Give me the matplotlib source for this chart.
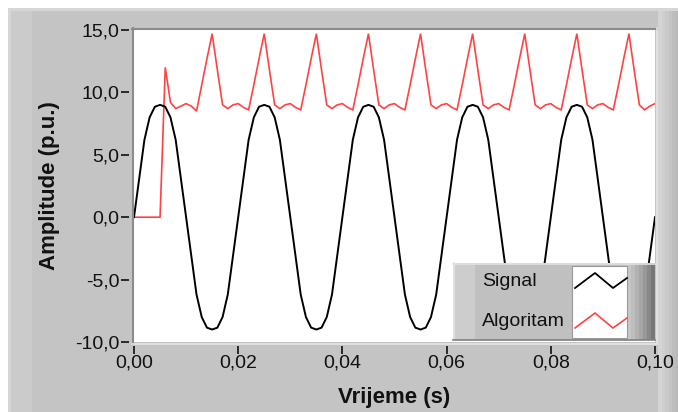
import numpy as np
import matplotlib
matplotlib.use("Agg")
import matplotlib.pyplot as plt
from matplotlib.patches import Rectangle
from matplotlib.lines import Line2D

# ---- data (sampled at 1 kHz, 0 ... 0.1 s) ----
sample_period = 0.001

signal = [
    0.00, 3.10, 6.20, 8.00, 8.85, 9.00, 8.85, 8.00, 6.20, 3.10,
    0.00, -3.10, -6.20, -8.00, -8.85, -9.00, -8.85, -8.00, -6.20, -3.10,
    0.00, 3.10, 6.20, 8.00, 8.85, 9.00, 8.85, 8.00, 6.20, 3.10,
    0.00, -3.10, -6.20, -8.00, -8.85, -9.00, -8.85, -8.00, -6.20, -3.10,
    0.00, 3.10, 6.20, 8.00, 8.85, 9.00, 8.85, 8.00, 6.20, 3.10,
    0.00, -3.10, -6.20, -8.00, -8.85, -9.00, -8.85, -8.00, -6.20, -3.10,
    0.00, 3.10, 6.20, 8.00, 8.85, 9.00, 8.85, 8.00, 6.20, 3.10,
    0.00, -3.10, -6.20, -8.00, -8.85, -9.00, -8.85, -8.00, -6.20, -3.10,
    0.00, 3.10, 6.20, 8.00, 8.85, 9.00, 8.85, 8.00, 6.20, 3.10,
    0.00, -3.10, -6.20, -8.00, -8.85, -9.00, -8.85, -8.00, -6.20, -3.10,
    0.00,
]

algoritam = [
    0.0, 0.0, 0.0, 0.0, 0.0, 0.0,
    12.0, 9.2, 8.7, 8.9, 9.1, 8.9, 8.5, 10.6, 12.7, 14.7,
    11.8, 9.0, 8.7, 9.0, 9.1, 8.8, 8.6, 10.6, 12.7, 14.7,
    11.8, 9.0, 8.7, 9.0, 9.1, 8.8, 8.6, 10.6, 12.7, 14.7,
    11.8, 9.0, 8.7, 9.0, 9.1, 8.8, 8.6, 10.6, 12.7, 14.7,
    11.8, 9.0, 8.7, 9.0, 9.1, 8.8, 8.6, 10.6, 12.7, 14.7,
    11.8, 9.0, 8.7, 9.0, 9.1, 8.8, 8.6, 10.6, 12.7, 14.7,
    11.8, 9.0, 8.7, 9.0, 9.1, 8.8, 8.6, 10.6, 12.7, 14.7,
    11.8, 9.0, 8.7, 9.0, 9.1, 8.8, 8.6, 10.6, 12.7, 14.7,
    11.8, 9.0, 8.7, 9.0, 9.1, 8.8, 8.6, 10.6, 12.7, 14.7,
    11.8, 9.0, 8.6, 8.9, 9.1,
]

x_ticks = [0.00, 0.02, 0.04, 0.06, 0.08, 0.10]
x_tick_labels = ["0,00", "0,02", "0,04", "0,06", "0,08", "0,10"]
y_ticks = [15, 10, 5, 0, -5, -10]
y_tick_labels = ["15,0", "10,0", "5,0", "0,0", "-5,0", "-10,0"]
series_names = ["Signal", "Algoritam"]
x_label = "Vrijeme (s)"
y_label = "Amplitude (p.u.)"

t = np.arange(len(signal)) * sample_period

# ---- figure setup ----
W, H = 678, 412
plt.rcParams["font.family"] = ["Liberation Sans", "DejaVu Sans"]
fig = plt.figure(figsize=(W / 100, H / 100), dpi=100, facecolor="white")


def fx(x):
    return x / W


def fy(y):
    return 1 - y / H


def rect(x0, y0, x1, y1, color, z=-5, ec="none", lw=0):
    r = Rectangle((fx(x0), fy(y1)), (x1 - x0) / W, (y1 - y0) / H,
                  transform=fig.transFigure, facecolor=color, edgecolor=ec,
                  linewidth=lw, zorder=z)
    fig.add_artist(r)
    return r


def hline(x0, x1, y, color, lw=1.0, z=-4):
    fig.add_artist(Line2D([fx(x0), fx(x1)], [fy(y), fy(y)], transform=fig.transFigure,
                          color=color, linewidth=lw, zorder=z))


def vline(x, y0, y1, color, lw=1.0, z=-4):
    fig.add_artist(Line2D([fx(x), fx(x)], [fy(y0), fy(y1)], transform=fig.transFigure,
                          color=color, linewidth=lw, zorder=z))


# gray panel with a light bevel
panel = "#c4c4c4"
rect(8, 8, W, H, panel)
rect(8, 8, 32, H, "#cbcbcb")
# right edge shading of the panel
shades = ["#d4d4d4", "#cfcfcf", "#cacaca", "#c4c4c4", "#bdbdbd", "#b8b8b8"]
for i, c in enumerate(shades):
    rect(658 + i * 3.5, 8, 658 + (i + 1) * 3.5, H, c, z=-4.5)
rect(8, 8, W, 11, "#d6d6d6", z=-4.2)
rect(8, 8, 11, H, "#d6d6d6", z=-4.2)

# ---- plot area ----
x_left, x_right = 134, 655
y_top, y_bottom = 30, 342
ax = fig.add_axes([fx(x_left), fy(y_bottom), (x_right - x_left) / W, (y_bottom - y_top) / H])
ax.set_facecolor("white")
ax.set_xlim(0, 0.1)
ax.set_ylim(-10, 15)

ax.plot(t, algoritam, color="#ff4242", linewidth=1.2, solid_joinstyle="miter", zorder=3)
ax.plot(t, signal, color="black", linewidth=1.4, solid_joinstyle="round", zorder=4)

for side in ["top", "right"]:
    ax.spines[side].set_visible(False)
ax.spines["left"].set_position(("outward", 3.4))
ax.spines["bottom"].set_position(("outward", 3))
ax.spines["left"].set_visible(False)
ax.spines["bottom"].set_visible(False)

ax.set_xticks(x_ticks)
ax.set_xticklabels(x_tick_labels)
ax.set_yticks(y_ticks)
ax.set_yticklabels(y_tick_labels)
ax.tick_params(axis="both", direction="out", length=5.5, width=1.1, color="black",
               labelsize=14, labelcolor="#111111")
ax.tick_params(axis="x", pad=0.5)
ax.tick_params(axis="y", pad=1.5)

# inset frame around the plot area
hline(x_left - 2, x_right + 2, y_top - 1.5, "#8c8c8c", lw=1.5, z=5)
vline(x_left - 1.5, y_top - 2, y_bottom + 2, "#8c8c8c", lw=1.5, z=5)
hline(x_left - 2, x_right + 2, y_bottom + 1.5, "#e6e6e6", lw=1.2, z=5)
vline(x_right + 1.5, y_top - 2, y_bottom + 2, "#e6e6e6", lw=1.2, z=5)

# axis titles
fig.text(fx(50), fy(186), y_label, rotation=90, ha="center", va="center",
         fontsize=16, fontweight="bold", color="#111111")
fig.text(fx(394), fy(398), x_label, ha="center", va="center",
         fontsize=16, fontweight="bold", color="#111111")

# ---- legend panel ----
lx0, ly0, lx1, ly1 = 453, 263, 655, 340
rect(lx0, ly0, lx1, ly1, "#c0c0c0", z=10)
rect(lx0, ly0, lx0 + 22, ly1, "#cdcdcd", z=10.1)
grad = ["#c6c6c6", "#bdbdbd", "#b2b2b2", "#a6a6a6", "#989898", "#888888", "#777777"]
gx = 627
for i, c in enumerate(grad):
    rect(gx + i * 4, ly0, gx + (i + 1) * 4, ly1, c, z=10.1)
hline(lx0, lx1, ly0 + 0.5, "#e2e2e2", lw=1.2, z=10.2)
vline(lx0 + 0.5, ly0, ly1, "#e2e2e2", lw=1.2, z=10.2)
hline(lx0, lx1, ly1 - 0.5, "#808080", lw=1.2, z=10.2)

rect(572, 266, 627, 338, "white", z=10.3, ec="#9a9a9a", lw=0.8)

fig.text(fx(482), fy(282), series_names[0], ha="left", va="center", fontsize=14,
         color="#111111", zorder=11)
fig.text(fx(482), fy(321), series_names[1], ha="left", va="center", fontsize=14,
         color="#111111", zorder=11)

zig_x = [575, 595, 613, 627]
fig.add_artist(Line2D([fx(v) for v in zig_x], [fy(v) for v in [288, 273, 288, 278]],
                      transform=fig.transFigure, color="black", linewidth=1.3, zorder=11))
fig.add_artist(Line2D([fx(v) for v in zig_x], [fy(v) for v in [328, 313, 328, 318]],
                      transform=fig.transFigure, color="#ff4242", linewidth=1.2, zorder=11))

fig.savefig("out.png", dpi=100, facecolor=fig.get_facecolor())
